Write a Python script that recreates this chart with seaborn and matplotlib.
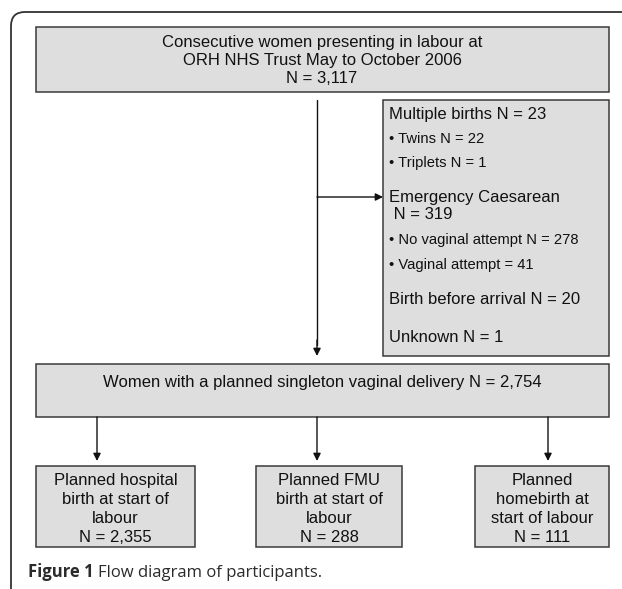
import matplotlib
matplotlib.use("Agg")
import matplotlib.pyplot as plt
import seaborn as sns
from matplotlib.patches import Rectangle, FancyBboxPatch

# counts from the flow diagram
total_n = 3117
multiple_n = 23
twins_n = 22
triplets_n = 1
emerg_n = 319
no_vag_n = 278
vag_n = 41
bba_n = 20
unknown_n = 1
singleton_n = 2754
plan_labels = [["Planned hospital", "birth at start of", "labour"],
               ["Planned FMU", "birth at start of", "labour"],
               ["Planned", "homebirth at", "start of labour"]]
plan_n = [2355, 288, 111]

sns.set_theme(style="white")
plt.rcParams["font.family"] = ["Liberation Sans", "DejaVu Sans"]

box_fc = "#dedede"
box_ec = "#3a3a3a"
txt_c = "#111111"

fig = plt.figure(figsize=(6.22, 5.89), dpi=100)
ax = fig.add_axes([0, 0, 1, 1])
ax.set_xlim(0, 622)
ax.set_ylim(589, 0)
ax.axis("off")

# outer rounded frame (only top/left visible)
ax.add_patch(FancyBboxPatch((11, 12), 800, 800,
                            boxstyle="round,pad=0,rounding_size=14",
                            fc="none", ec="#333333", lw=1.3))


def box(x0, y0, x1, y1):
    ax.add_patch(Rectangle((x0, y0), x1 - x0, y1 - y0, fc=box_fc, ec=box_ec, lw=1.1))


def arrow(x0, y0, x1, y1):
    ax.annotate("", xy=(x1, y1), xytext=(x0, y0),
                arrowprops=dict(arrowstyle="-|>", color="#111111", lw=1.0,
                                mutation_scale=11, shrinkA=0, shrinkB=0))


def line(x, yc, s, size=12, ha="left"):
    # yc = visual centre of capitals, in pixels
    ax.text(x, yc + 0.36 * size * 100 / 72, s, ha=ha, va="baseline",
            fontsize=size, color=txt_c)


fs = 12
fb = 10.6

# top box
box(36, 27, 609, 92)
line(322, 41, "Consecutive women presenting in labour at", ha="center")
line(322, 59, "ORH NHS Trust May to October 2006", ha="center")
line(322, 77, "N = {:,}".format(total_n), ha="center")

# exclusions box
box(383, 100, 609, 356)
tx = 389
line(tx, 113, "Multiple births N = {}".format(multiple_n))
line(tx, 138, "\u2022 Twins N = {}".format(twins_n), fb)
line(tx, 162, "\u2022 Triplets N = {}".format(triplets_n), fb)
line(tx, 196, "Emergency Caesarean")
line(tx, 213, " N = {}".format(emerg_n))
line(tx, 239, "\u2022 No vaginal attempt N = {}".format(no_vag_n), fb)
line(tx, 264, "\u2022 Vaginal attempt = {}".format(vag_n), fb)
line(tx, 298, "Birth before arrival N = {}".format(bba_n))
line(tx, 336, "Unknown N = {}".format(unknown_n))

# main vertical line + arrows
ax.plot([317, 317], [100, 345], color="#111111", lw=1.0)
arrow(317, 340, 317, 356)
arrow(317, 197, 383, 197)

# singleton box
box(36, 364, 609, 417)
line(322, 381, "Women with a planned singleton vaginal delivery N = {:,}".format(singleton_n), ha="center")

# bottom boxes
bottoms = [(36, 195), (256, 402), (475, 609)]
arrow_x = [97, 317, 548]
for (x0, x1), axx, lab, n in zip(bottoms, arrow_x, plan_labels, plan_n):
    arrow(axx, 417, axx, 461)
    box(x0, 466, x1, 547)
    xc = (x0 + x1) / 2
    rows = lab + ["N = {:,}".format(n)]
    for i, r in enumerate(rows):
        line(xc, 479 + 19 * i, r, ha="center")

# caption
cap_kw = dict(fontsize=12, color="#2b2b2b", va="baseline", family=["Open Sans", "DejaVu Sans"])
t1 = ax.text(28, 577, "Figure 1", fontweight="bold", **cap_kw)
fig.canvas.draw()
bb = t1.get_window_extent().transformed(ax.transData.inverted())
ax.text(bb.x1 + 4, 577, "Flow diagram of participants.", **cap_kw)

fig.savefig("out.png", dpi=100)
